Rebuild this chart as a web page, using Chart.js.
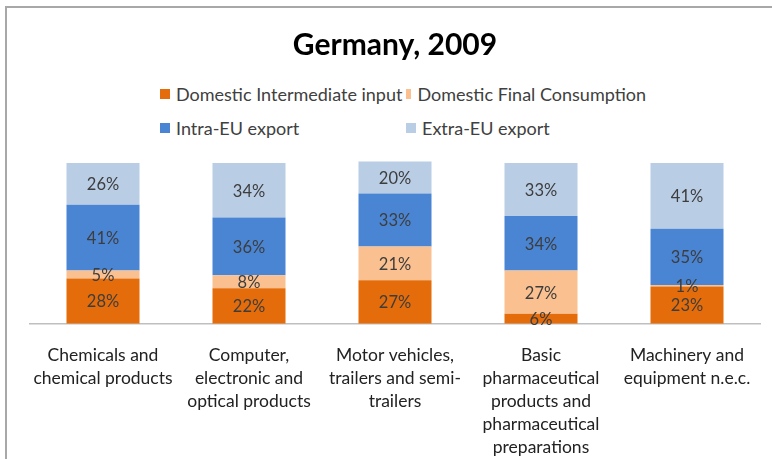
<!DOCTYPE html>
<html>
<head>
<meta charset="utf-8">
<script src="https://cdn.jsdelivr.net/npm/chart.js@4"></script>
<style>
  html, body { margin: 0; padding: 0; background: #fff; }
  #wrap { position: relative; width: 772px; height: 459px; overflow: hidden; }
  #frame {
    position: absolute; left: 5px; top: 6px; width: 800px; height: 500px;
    border-left: 2px solid #a8a8a8; border-top: 2px solid #a8a8a8;
  }
  #legend {
    position: absolute; left: 160px; top: 83px;
    display: grid; grid-template-columns: 246px 240px; row-gap: 12px;
    font-family: Lato, 'Liberation Sans Narrow', sans-serif;
    font-size: 18px; color: #404040;
  }
  #legend span.item { display: flex; align-items: center; height: 22px; white-space: nowrap; }
  #legend i { display: inline-block; width: 10px; height: 10px; margin-right: 6px; }
  canvas { position: absolute; left: 0; top: 0; }
</style>
</head>
<body>
<div id="wrap">
  <div id="frame"></div>
  <div id="legend"></div>
  <canvas id="chart" width="772" height="459"></canvas>
</div>
<script>
// ─── Data ───────────────────────────────────────────────────

const categories = [
  ['Chemicals and', 'chemical products'],
  ['Computer,', 'electronic and', 'optical products'],
  ['Motor vehicles,', 'trailers and semi-', 'trailers'],
  ['Basic', 'pharmaceutical', 'products and', 'pharmaceutical', 'preparations'],
  ['Machinery and', 'equipment n.e.c.'],
];

const seriesNames = [
  'Domestic Intermediate input',
  'Domestic Final Consumption',
  'Intra-EU export',
  'Extra-EU export',
];

const domesticIntermediate = [28, 22, 27, 6, 23];
const domesticFinal = [5, 8, 21, 27, 1];
const intraEU = [41, 36, 33, 34, 35];
const extraEU = [26, 34, 20, 33, 41];

const seriesColors = ['#E46C0A', '#FAC090', '#4A85D3', '#B9CDE5'];

const FONT = "Lato, 'Liberation Sans Narrow', sans-serif";

// ─── Legend (two aligned columns) ───────────────────────────

document.getElementById('legend').innerHTML = seriesNames.map((n, i) =>
  `<span class="item"><i style="background:${seriesColors[i]}"></i>${n}</span>`
).join('');

// ─── Segment labels ─────────────────────────────────────────

const barLabels = {
  id: 'barLabels',
  afterDatasetsDraw(chart) {
    const ctx = chart.ctx;
    ctx.save();
    ctx.font = `16.5px ${FONT}`;
    ctx.fillStyle = '#3d3d3d';
    ctx.textAlign = 'center';
    ctx.textBaseline = 'middle';
    chart.data.datasets.forEach((ds, di) => {
      chart.getDatasetMeta(di).data.forEach((bar, i) => {
        const y = (bar.y + bar.base) / 2;
        ctx.fillText(ds.data[i] + '%', bar.x, y + 1);
      });
    });
    ctx.restore();
  },
};

// ─── Chart ──────────────────────────────────────────────────

const series = [domesticIntermediate, domesticFinal, intraEU, extraEU];

new Chart(document.getElementById('chart'), {
  type: 'bar',
  data: {
    labels: categories,
    datasets: series.map((d, i) => ({
      label: seriesNames[i],
      data: d,
      backgroundColor: seriesColors[i],
      borderWidth: 0,
      barPercentage: 0.5,
      categoryPercentage: 1,
      clip: false,
    })),
  },
  options: {
    responsive: false,
    animation: false,
    layout: { padding: { left: 30, right: 12, top: 0, bottom: -12 } },
    plugins: {
      legend: { display: false },
      tooltip: { enabled: false },
      title: {
        display: true,
        text: 'Germany, 2009',
        color: '#000',
        font: { family: FONT, size: 30, weight: 'bold' },
        padding: { top: 27, bottom: 100 },
      },
    },
    scales: {
      x: {
        stacked: true,
        grid: { display: false },
        border: { display: true, color: '#bfbfbf', width: 1.5 },
        ticks: {
          color: '#222',
          padding: 12,
          maxRotation: 0,
          autoSkip: false,
          font: { family: FONT, size: 17.5, lineHeight: 1.32 },
        },
      },
      y: {
        stacked: true,
        display: false,
        min: 0,
        max: 100,
      },
    },
  },
  plugins: [barLabels],
});
</script>
</body>
</html>
